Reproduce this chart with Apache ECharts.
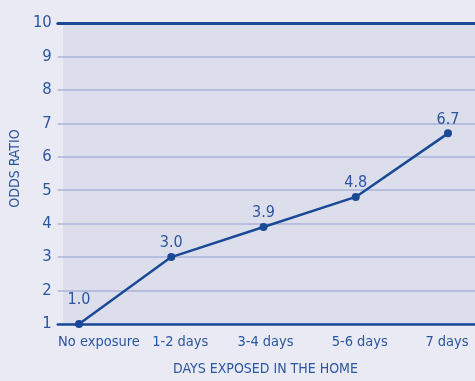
<!DOCTYPE html>
<html>
<head>
<meta charset="utf-8">
<script src="https://cdn.jsdelivr.net/npm/echarts@6/dist/echarts.min.js"></script>
<style>
html,body{margin:0;padding:0;background:#e9eaf3;}
#chart{width:475px;height:381px;}
</style>
</head>
<body>
<div id="chart"></div>
<script>
// Odds ratio by number of days exposed in the home
const categories = ['No exposure', '1-2 days', '3-4 days', '5-6 days', '7 days'];
const oddsRatio = [1.0, 3.0, 3.9, 4.8, 6.7];
const yTicks = [1, 2, 3, 4, 5, 6, 7, 8, 9, 10];

// horizontal nudge (px) for each category label, keeps the first label clear of the value axis
const labelNudge = [20, 9, 2, 4, -1];

const FONT = '"Liberation Sans Narrow", "DejaVu Sans Condensed", "Roboto Condensed", sans-serif';
const TEXT = '#2b56a0';
const DARK = '#1a4996';
const GRIDLINE = '#aeb2d8';

const yMin = yTicks[0], yMax = yTicks[yTicks.length - 1];
const plotTop = 23, plotBottom = 57;

const chart = echarts.init(document.getElementById('chart'), null, { renderer: 'canvas' });

const hiddenValue = (gridIndex, extra) => Object.assign({
  type: 'value', gridIndex, min: 0, max: 1, show: false
}, extra || {});

const categoryItems = categories.map((c, i) => {
  const d = labelNudge[i];
  return {
    value: c,
    textStyle: { padding: d >= 0 ? [0, 0, 0, 2 * d] : [0, -2 * d, 0, 0] }
  };
});

chart.setOption({
  backgroundColor: '#e9eaf3',
  animation: false,
  grid: [
    // shaded plotting panel
    { left: 63, right: 0, top: plotTop, bottom: plotBottom, show: true, backgroundColor: '#dcdeec', borderWidth: 0 },
    // value scale, gridlines and frame lines
    { left: 56, right: 0, top: plotTop, bottom: plotBottom },
    // category positions for the series
    { left: 79, right: 27, top: plotTop, bottom: plotBottom }
  ],
  xAxis: [
    hiddenValue(0),
    {
      type: 'value', gridIndex: 1, min: 0, max: 1, position: 'top',
      axisLine: { show: true, lineStyle: { color: DARK, width: 3 } },
      axisTick: { show: false }, axisLabel: { show: false }, splitLine: { show: false }, z: 5
    },
    {
      type: 'value', gridIndex: 1, min: 0, max: 1, position: 'bottom',
      axisLine: { show: true, lineStyle: { color: DARK, width: 2.5 } },
      axisTick: { show: false }, axisLabel: { show: false }, splitLine: { show: false }, z: 5
    },
    {
      type: 'category', gridIndex: 2, data: categoryItems, boundaryGap: false,
      axisLine: { show: false }, axisTick: { show: false },
      axisLabel: { color: TEXT, fontFamily: FONT, fontSize: 14.5, margin: 11, interval: 0 },
      name: 'DAYS EXPOSED IN THE HOME', nameLocation: 'middle', nameGap: 38,
      nameTextStyle: { color: TEXT, fontFamily: FONT, fontSize: 14, padding: [0, 0, 0, 4] }
    }
  ],
  yAxis: [
    hiddenValue(0),
    {
      type: 'value', gridIndex: 1, min: yMin, max: yMax, interval: 1,
      axisLine: { show: false }, axisTick: { show: false },
      axisLabel: { color: TEXT, fontFamily: FONT, fontSize: 16.5, margin: 6 },
      splitLine: { show: true, lineStyle: { color: GRIDLINE, width: 1.5 } },
      name: 'ODDS RATIO', nameLocation: 'middle', nameGap: 31, nameRotate: 90,
      nameTextStyle: { color: TEXT, fontFamily: FONT, fontSize: 14, padding: [0, 0, 0, 10] }
    },
    { type: 'value', gridIndex: 2, min: yMin, max: yMax, interval: 1, show: false }
  ],
  series: [{
    type: 'line',
    xAxisIndex: 3,
    yAxisIndex: 2,
    data: oddsRatio.map((v, i) => i === 0
      ? { value: v, label: { offset: [0, -10] } }
      : v),
    lineStyle: { color: DARK, width: 2.5 },
    itemStyle: { color: DARK },
    symbol: 'circle',
    symbolSize: 8,
    z: 10,
    label: {
      show: true, position: 'top', distance: 2,
      color: TEXT, fontFamily: FONT, fontSize: 16,
      formatter: p => p.value.toFixed(1)
    }
  }]
});
</script>
</body>
</html>
